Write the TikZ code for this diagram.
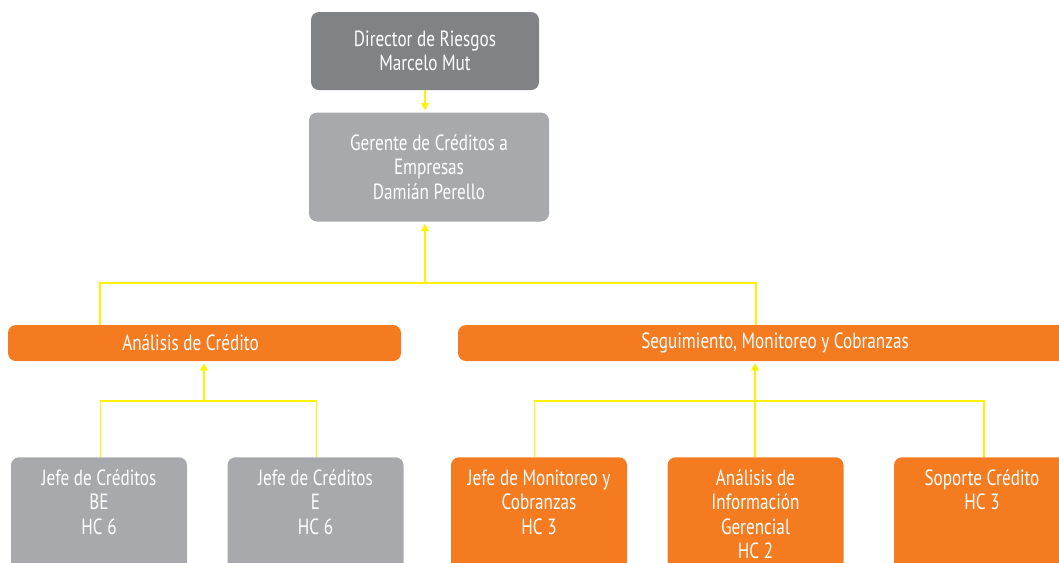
\documentclass[tikz,border=0pt]{standalone}
\usepackage{fontspec}
\setmainfont{PT Sans}[FakeStretch=0.78]
\usetikzlibrary{arrows.meta}
\definecolor{dkgray}{HTML}{808285}
\definecolor{ltgray}{HTML}{A7A9AC}
\definecolor{orng}{HTML}{F47B20}
\definecolor{ylw}{HTML}{FFF200}
\def\pu{0.75pt}
\tikzset{
  box/.style={rounded corners=6pt, inner sep=0pt, text=white, font=\fontsize{16.5}{18.4}\selectfont},
  lbl/.style={anchor=base, yshift=-28*\pu, text width=176*\pu, align=flush center, inner sep=0pt, text=white, font=\fontsize{16.5}{18.4}\selectfont},
  conn/.style={draw=ylw, line width=1.2pt},
  tip/.style={-{Triangle[length=5.5pt,width=6pt]}, shorten >=1.5pt}
}
\begin{document}
\begin{tikzpicture}[x=0.75pt,y=-0.75pt]
\useasboundingbox (0,0) rectangle (1059,562);
\clip (0,0) rectangle (1059,562);

\node[box, fill=dkgray, align=center, minimum width=228*\pu, minimum height=78*\pu] (dir) at (425,51) {Director de Riesgos\\Marcelo Mut};
\node[box, fill=ltgray, align=center, minimum width=240*\pu, minimum height=109*\pu] (ger) at (429,167) {Gerente de Créditos a\\Empresas\\Damián Perello};

\node[box, fill=orng, minimum width=393*\pu, minimum height=36*\pu] (ana) at (204.5,343) {Análisis de Crédito\hspace*{21pt}};
\node[box, fill=orng, minimum width=634*\pu, minimum height=36*\pu] (seg) at (775,343) {Seguimiento, Monitoreo y Cobranzas};

\node[box, fill=ltgray, anchor=north, minimum width=176*\pu, minimum height=140*\pu,
  label={[lbl]north:Jefe de Créditos\\BE\\HC 6}] (jbe) at (99,457) {};
\node[box, fill=ltgray, anchor=north, minimum width=176*\pu, minimum height=140*\pu,
  label={[lbl]north:Jefe de Créditos\\E\\HC 6}] (je) at (315.5,457) {};
\node[box, fill=orng, anchor=north, minimum width=176*\pu, minimum height=140*\pu,
  label={[lbl]north:Jefe de Monitoreo y\\Cobranzas\\HC 3}] (jm) at (539,457) {};
\node[box, fill=orng, anchor=north, minimum width=176*\pu, minimum height=140*\pu,
  label={[lbl]north:Análisis de\\Información\\Gerencial\\HC 2}] (aig) at (755.5,457) {};
\node[box, fill=orng, anchor=north, minimum width=176*\pu, minimum height=140*\pu,
  label={[lbl]north:Soporte Crédito\\HC 3}] (sc) at (982,457) {};

% connectors
\draw[conn, tip] (dir.south) -- (dir.south |- ger.north);

\coordinate (bL) at (100,283);
\coordinate (bR) at (756,283);
\coordinate (bM) at (425,283);
\draw[conn] (ana.north -| bL) -- (bL) -- (bR) -- (seg.north -| bR);
\draw[conn, tip] (bM) -- (bM |- ger.south);

\coordinate (cL) at (100.5,401);
\coordinate (cR) at (316.5,401);
\coordinate (cM) at (204,401);
\draw[conn] (jbe.north -| cL) -- (cL) -- (cR) -- (je.north -| cR);
\draw[conn, tip] (cM) -- (cM |- ana.south);

\coordinate (dL) at (534.5,401);
\coordinate (dR) at (984,401);
\coordinate (dM) at (755,401);
\draw[conn] (jm.north -| dL) -- (dL) -- (dR) -- (sc.north -| dR);
\draw[conn, tip] (aig.north -| dM) -- (dM |- seg.south);
\end{tikzpicture}
\end{document}
